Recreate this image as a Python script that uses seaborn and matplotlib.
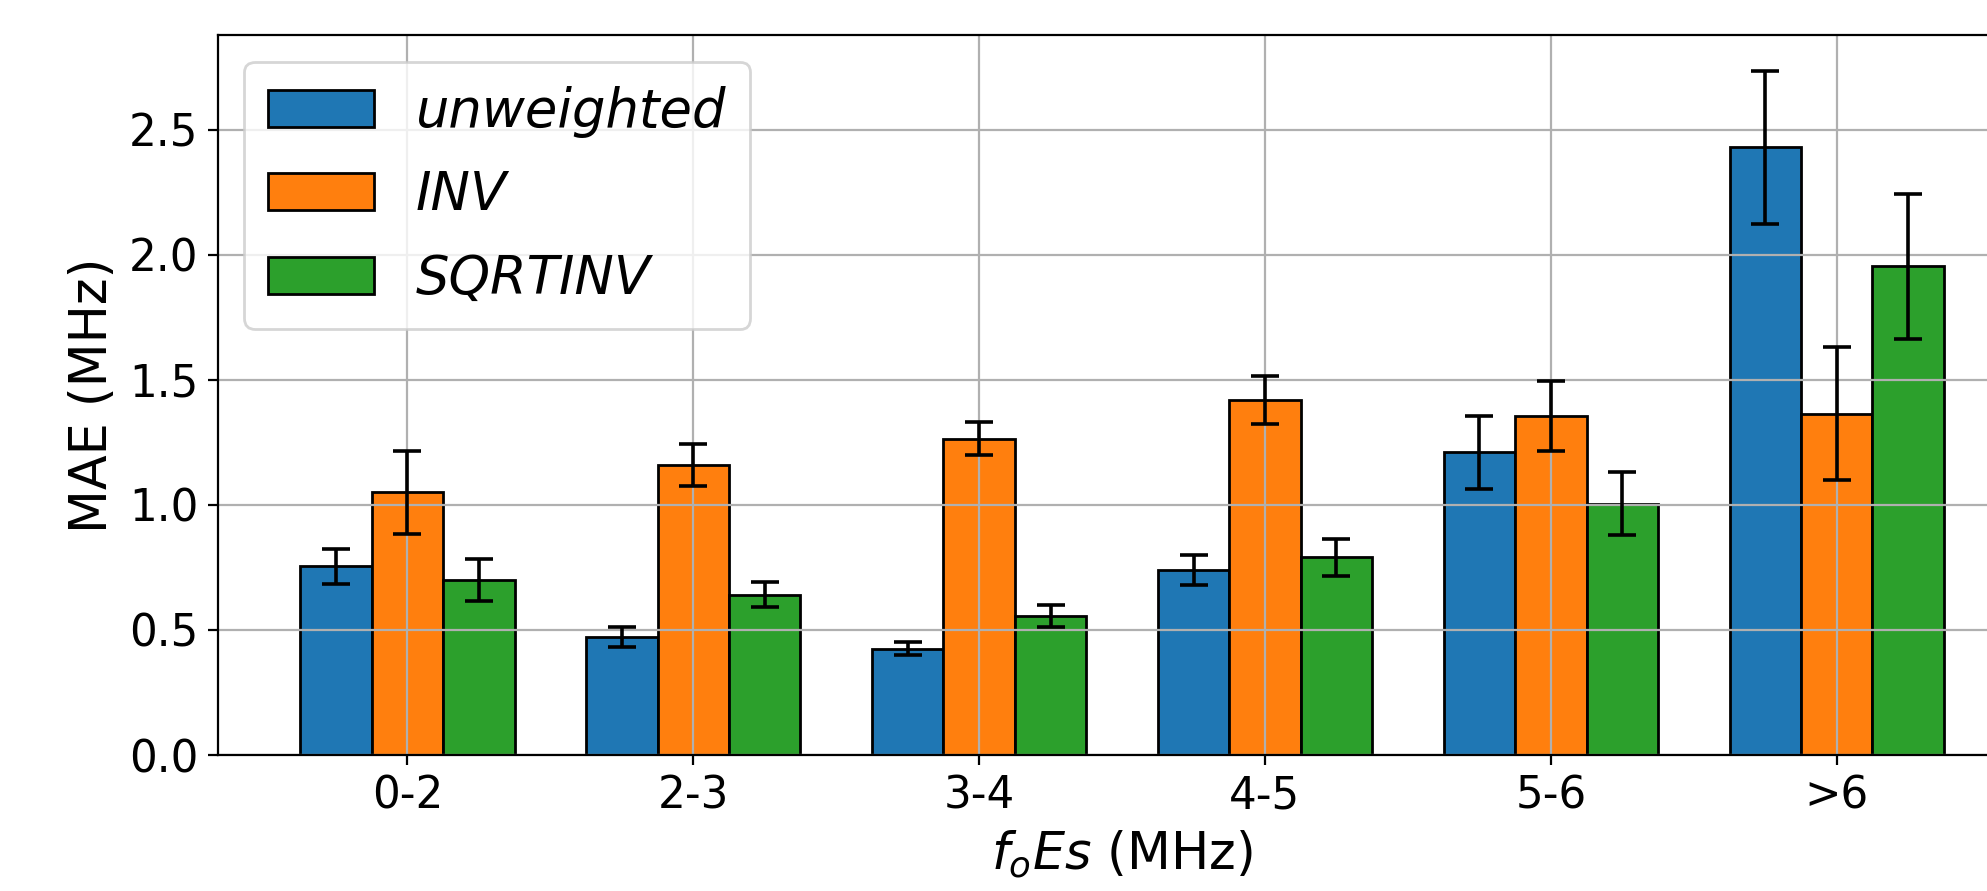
import pandas as pd
import matplotlib
matplotlib.use("Agg")
import matplotlib.pyplot as plt
import seaborn as sns

# MAE per foEs bin for three weighting schemes
bins = ["0-2", "2-3", "3-4", "4-5", "5-6", ">6"]
schemes = ["unweighted", "INV", "SQRTINV"]

mae_unweighted = [0.755, 0.47, 0.425, 0.74, 1.21, 2.43]
mae_inv = [1.05, 1.16, 1.265, 1.42, 1.355, 1.365]
mae_sqrtinv = [0.70, 0.64, 0.555, 0.79, 1.005, 1.955]

err_unweighted = [0.07, 0.04, 0.025, 0.06, 0.145, 0.305]
err_inv = [0.165, 0.085, 0.065, 0.095, 0.14, 0.265]
err_sqrtinv = [0.085, 0.05, 0.045, 0.075, 0.125, 0.29]

colors = ["#1f77b4", "#ff7f0e", "#2ca02c"]


def main():
    values = [mae_unweighted, mae_inv, mae_sqrtinv]
    errors = [err_unweighted, err_inv, err_sqrtinv]
    df = pd.concat(
        [pd.DataFrame({"bin": bins, "scheme": s, "mae": v}) for s, v in zip(schemes, values)],
        ignore_index=True,
    )

    fig = plt.figure(figsize=(9.935, 4.455), dpi=200)
    ax = fig.add_axes([0.1097, 0.1526, 0.910, 0.8076])

    sns.barplot(data=df, x="bin", y="mae", hue="scheme", hue_order=schemes,
                palette=colors, saturation=1, width=0.75, errorbar=None,
                edgecolor="black", linewidth=1.0, ax=ax)

    # error bars on top of each bar
    for container, err in zip(ax.containers, errors):
        xs = [p.get_x() + p.get_width() / 2 for p in container.patches]
        hs = [p.get_height() for p in container.patches]
        ax.errorbar(xs, hs, yerr=err, fmt="none", ecolor="black",
                    elinewidth=1.3, capsize=5, capthick=1.3, zorder=3)

    ax.set_xlim(-0.6625, 5.6625)
    ax.set_ylim(0, 2.877)
    ax.set_yticks([0.0, 0.5, 1.0, 1.5, 2.0, 2.5])
    ax.grid(True, color="#b0b0b0", linewidth=0.8)
    ax.set_axisbelow("line")
    ax.tick_params(labelsize=15.7)
    ax.set_xlabel("$f_oEs$ (MHz)", fontsize=18.3)
    ax.set_ylabel("MAE (MHz)", fontsize=18.3)

    handles, labels = ax.get_legend_handles_labels()
    ax.legend(handles, labels, loc="upper left", labelspacing=0.6,
              borderpad=0.45, prop={"size": 19, "style": "italic"})

    fig.savefig("out.png", dpi=200)


if __name__ == "__main__":
    main()
